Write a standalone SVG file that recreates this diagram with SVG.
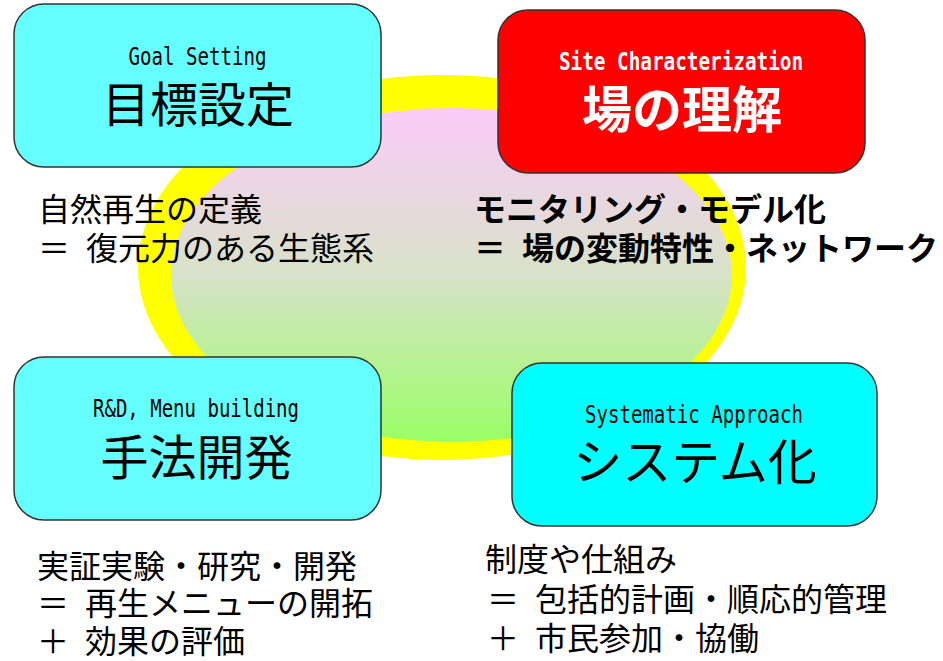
<svg xmlns="http://www.w3.org/2000/svg" width="943" height="661" viewBox="0 0 943 661">
  <defs>
    <linearGradient id="core" x1="0" y1="0" x2="0" y2="1">
      <stop offset="0" stop-color="#FBCCFB"/>
      <stop offset="0.5" stop-color="#D8E2C8"/>
      <stop offset="1" stop-color="#99FF66"/>
    </linearGradient>
  </defs>
  <style>
    .box { stroke: #333333; stroke-width: 1.5; }
    .en { font-family: "DejaVu Sans Mono", "Liberation Mono", monospace; font-size: 24px; text-anchor: middle; }
    .jp { font-family: "Noto Sans CJK JP", sans-serif; text-anchor: middle; }
    .body { font-family: "Noto Sans CJK JP", sans-serif; font-size: 32px; fill: #000000; }
    .bold { font-weight: bold; }
  </style>
  <rect width="943" height="661" fill="#FFFFFF"/>
  <g id="background">
    <ellipse cx="442" cy="267.5" rx="304" ry="192.5" fill="#FFFF00"/>
    <ellipse cx="451.5" cy="275" rx="280.5" ry="167" fill="url(#core)"/>
  </g>
  <g id="connectors"/>
  <g id="goal-setting">
    <rect class="box" x="14" y="4" width="367" height="163" rx="30" ry="30" fill="#66FFFF"/>
    <text class="en" x="197.5" y="65" textLength="138" lengthAdjust="spacingAndGlyphs">Goal Setting</text>
    <text class="jp" x="198" y="121.5" font-size="48">目標設定</text>
  </g>
  <g id="site-characterization">
    <rect class="box" x="498" y="10" width="367" height="163" rx="30" ry="30" fill="#FF0000"/>
    <text class="en bold" x="681" y="70" fill="#FFFFFF" textLength="244" lengthAdjust="spacingAndGlyphs">Site Characterization</text>
    <text class="jp bold" x="682" y="128" font-size="50" fill="#FFFFFF">場の理解</text>
  </g>
  <g id="rd-menu-building">
    <rect class="box" x="14" y="357" width="367" height="163" rx="30" ry="30" fill="#66FFFF"/>
    <text class="en" x="196" y="417" textLength="206" lengthAdjust="spacingAndGlyphs">R&amp;D, Menu building</text>
    <text class="jp" x="196.5" y="474.5" font-size="48">手法開発</text>
  </g>
  <g id="systematic-approach">
    <rect class="box" x="512" y="363" width="365" height="163" rx="30" ry="30" fill="#00FFFF"/>
    <text class="en" x="694" y="423" textLength="218" lengthAdjust="spacingAndGlyphs">Systematic Approach</text>
    <text class="jp" x="695" y="479.5" font-size="49">システム化</text>
  </g>
  <g id="goal-notes">
    <text class="body" x="38" y="221">自然再生の定義</text>
    <text class="body" x="38" y="260">＝</text>
    <text class="body" x="86" y="260">復元力のある生態系</text>
  </g>
  <g id="site-notes">
    <text class="body bold" x="474" y="221">モニタリング・モデル化</text>
    <text class="body bold" x="474" y="260">＝</text>
    <text class="body bold" x="522" y="260">場の変動特性・ネットワーク</text>
  </g>
  <g id="rd-notes">
    <text class="body" x="37" y="578">実証実験・研究・開発</text>
    <text class="body" x="37" y="615">＝</text>
    <text class="body" x="85" y="615">再生メニューの開拓</text>
    <text class="body" x="37" y="653">＋</text>
    <text class="body" x="85" y="653">効果の評価</text>
  </g>
  <g id="system-notes">
    <text class="body" x="485" y="571">制度や仕組み</text>
    <text class="body" x="487" y="611">＝</text>
    <text class="body" x="535" y="611">包括的計画・順応的管理</text>
    <text class="body" x="487" y="650">＋</text>
    <text class="body" x="535" y="650">市民参加・協働</text>
  </g>
</svg>
